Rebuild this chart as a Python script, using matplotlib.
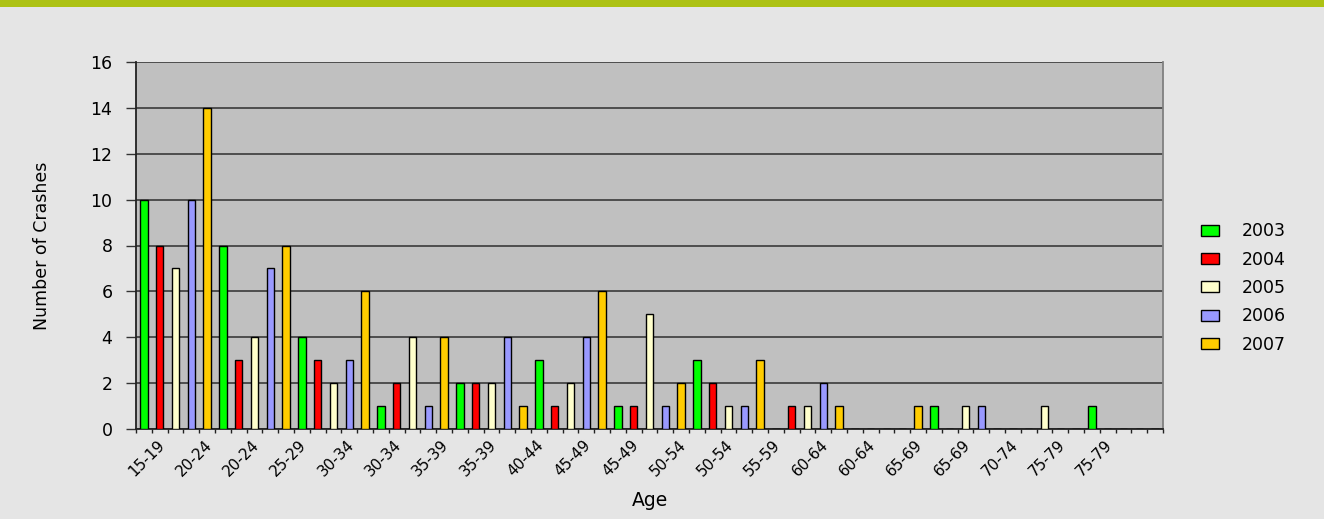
import numpy as np
import matplotlib.pyplot as plt
from matplotlib.patches import Rectangle

# crashes per age group, one list per year
ages = ['15-19', '20-24', '25-29', '30-34', '35-39', '40-44', '45-49',
        '50-54', '55-59', '60-64', '65-69', '70-74', '75-79']
years = ['2003', '2004', '2005', '2006', '2007']
c2003 = [10, 8, 4, 1, 2, 3, 1, 3, 0, 0, 1, 0, 1]
c2004 = [8, 3, 3, 2, 2, 1, 1, 2, 1, 0, 0, 0, 0]
c2005 = [7, 4, 2, 4, 2, 2, 5, 1, 1, 0, 1, 1, 0]
c2006 = [10, 7, 3, 1, 4, 4, 1, 1, 2, 0, 1, 0, 0]
c2007 = [14, 8, 6, 4, 1, 6, 2, 3, 1, 1, 0, 0, 0]
series = [c2003, c2004, c2005, c2006, c2007]
colors = ['#00FF00', '#FF0000', '#FFFFCC', '#9999FF', '#FFCC00']

# the axis shows every third category label
tick_labels = ['15-19', '20-24', '20-24', '25-29', '30-34', '30-34', '35-39',
               '35-39', '40-44', '45-49', '45-49', '50-54', '50-54', '55-59',
               '60-64', '60-64', '65-69', '65-69', '70-74', '75-79', '75-79']

n_slots = len(ages) * len(years)

fig = plt.figure(figsize=(13.24, 5.19), dpi=100)
fig.patch.set_facecolor('#E5E5E5')
fig.patches.append(Rectangle((0, 1 - 7 / 519), 1, 7 / 519, transform=fig.transFigure,
                             facecolor='#ADC214', edgecolor='none'))

ax = fig.add_axes([136 / 1324, 1 - 429 / 519, 1027 / 1324, 367 / 519])
ax.set_facecolor('#C0C0C0')

grp = np.arange(len(ages)) * len(years)
for j, (vals, col, yr) in enumerate(zip(series, colors, years)):
    ax.bar(grp + j + 0.5, vals, width=0.48, color=col, edgecolor='black',
           linewidth=1, label=yr, zorder=3)

ax.set_xlim(0, n_slots)
ax.set_ylim(0, 16)
ax.set_yticks(np.arange(0, 17, 2))
ax.yaxis.grid(True, color='#3A3A3A', linewidth=1.2, zorder=1)
ax.set_axisbelow(True)

ax.set_xticks(np.arange(len(tick_labels)) * 3 + 1.65)
ax.set_xticklabels(tick_labels, rotation=45, ha='right', va='center',
                   rotation_mode='anchor', family='Liberation Sans Narrow', fontsize=11)
ax.set_xticks(np.arange(n_slots + 1), minor=True)
ax.tick_params(axis='x', which='major', length=0, pad=10)
ax.tick_params(axis='x', which='minor', length=3, width=1, color='#222222', direction='out')
ax.tick_params(axis='y', length=7, width=1, color='#333333', pad=10)
for lab in ax.get_yticklabels():
    lab.set_family('DejaVu Sans')
    lab.set_fontsize(12.5)

for s in ['left', 'bottom']:
    ax.spines[s].set_color('#222222')
    ax.spines[s].set_linewidth(1.3)
ax.spines['top'].set_visible(False)
ax.spines['right'].set_color('#808080')
ax.spines['right'].set_linewidth(1.3)

ax.set_ylabel('Number of Crashes', family='Liberation Sans Narrow', fontsize=12.5, labelpad=28)
ax.set_xlabel('Age', family='DejaVu Sans', fontsize=13.5, labelpad=8)

leg = fig.legend(loc='center left', bbox_to_anchor=(1185 / 1324, 1 - 288 / 519),
                 frameon=False, prop={'family': 'DejaVu Sans', 'size': 12.5},
                 handlelength=1.05, handleheight=0.6, labelspacing=0.6, handletextpad=1.3)

fig.savefig('out.png', dpi=100, facecolor=fig.get_facecolor())
